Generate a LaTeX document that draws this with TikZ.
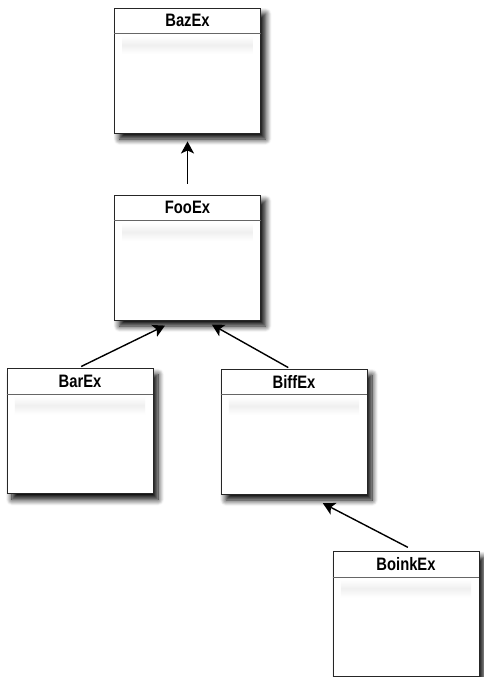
\documentclass[tikz,border=0pt]{standalone}
\usepackage{fontspec}
\setmainfont[FakeStretch=0.82]{Liberation Sans}
\usetikzlibrary{arrows.meta,calc,positioning,shadows.blur}
\tikzset{
    classbox/.style={draw=black!85, line width=0.9pt, fill=white,
                     minimum width=146pt, minimum height=125pt, inner sep=0pt,
                     blur shadow={shadow xshift=5pt, shadow yshift=-6pt,
                                  shadow blur radius=6pt, shadow opacity=100,
                                  shadow blur steps=10}},
    classname/.style={font=\bfseries\fontsize{18}{20}\selectfont,
                      minimum width=146pt, minimum height=26pt, inner sep=0pt},
    divider/.style={draw=black!60, line width=1pt},
    glow/.style={top color=white, bottom color=white, middle color=black!6},
    flow/.style={-{Stealth[length=12pt, width=13pt, inset=3pt]}, line width=1.4pt},
}

\begin{document}
\begin{tikzpicture}[x=1pt, y=-1pt]
    \useasboundingbox (0,0) rectangle (483,677);

    \node[classbox] (baz) at (187.5,70.5) {};
    \node[classbox] (foo) at (187.5,257.5) {};
    \node[classbox] (bar) at (80,431) {};
    \node[classbox] (biff) at (294,431.5) {};
    \node[classbox] (boink) at (406,614) {};

    % title rows
    \foreach \c/\t in {baz/BazEx, foo/FooEx, bar/BarEx, biff/BiffEx, boink/BoinkEx} {
        \node[classname, below=0pt of \c.north] (\c title) {\t};
        \shade[glow] ($(\c title.south west)+(8,2)$) rectangle ($(\c title.south east)+(-8,20)$);
        \draw[divider] (\c title.south -| \c.west) -- (\c title.south -| \c.east);
    }

    \draw[flow, shorten <=11pt, shorten >=8pt] (foo.north) -- (baz.south);
    \draw[flow, shorten <=3.5pt, shorten >=11.7pt]
        ($(bar.north)+(-2,0)$) -- ($(foo.south)+(-12,0)$);
    \draw[flow, shorten <=2pt, shorten >=8.5pt]
        ($(biff.north)+(-4,0)$) -- ($(foo.south)+(17,0)$);
    \draw[flow, shorten <=8pt, shorten >=19pt]
        ($(boink.north)+(9,0)$) -- ($(biff.south)+(12,0)$);
\end{tikzpicture}
\end{document}
